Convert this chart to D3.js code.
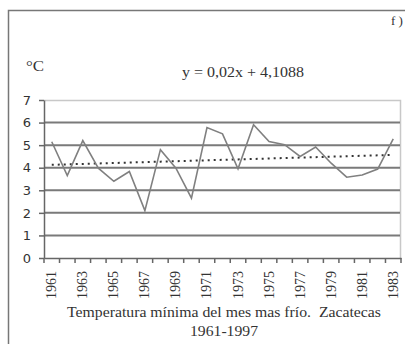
<!DOCTYPE html>
<html>
<head>
<meta charset="utf-8">
<script src="https://cdn.jsdelivr.net/npm/d3@7"></script>
<style>
  html, body { margin: 0; padding: 0; background: #fff; }
  svg { display: block; }
</style>
</head>
<body>
<svg id="chart" width="405" height="344"></svg>
<script>
// Minimum temperature of the coldest month, Zacatecas
const years = d3.range(1961, 1984).map(String);
const tmin = [5.15, 3.65, 5.2, 3.98, 3.4, 3.83, 2.1, 4.8, 3.98, 2.65,
              5.78, 5.5, 3.95, 5.9, 5.16, 5.02, 4.5, 4.92, 4.2, 3.58,
              3.68, 3.94, 5.28];
const yTicks = [0, 1, 2, 3, 4, 5, 6, 7];
const xLabels = years.filter((d, i) => i % 2 === 0);
// Linear trend as stated on the chart: y = 0,02x + 4,1088
const trendSlope = 0.02, trendIntercept = 4.1088;

const svg = d3.select("#chart");
const serif = "'Liberation Serif', 'Times New Roman', serif";
const sans = "'DejaVu Sans', Verdana, sans-serif";

// outer frame
svg.append("path")
  .attr("d", "M8.5,344 V10.5 H405")
  .attr("fill", "none").attr("stroke", "#777").attr("stroke-width", 1.5);

const plot = { left: 44, right: 401, top: 100, bottom: 258 };

const x = d3.scaleBand().domain(years).range([plot.left, plot.right]);
const y = d3.scaleLinear().domain([0, 7]).range([plot.bottom, plot.top]);

// plot-area border (light)
svg.append("path")
  .attr("d", `M${plot.left},${plot.top + 0.5} H${plot.right - 0.5} V${plot.bottom}`)
  .attr("fill", "none").attr("stroke", "#c8c8c8").attr("stroke-width", 1.5);

// gridlines
svg.append("g").selectAll("line")
  .data(yTicks.filter(d => d > 0 && d < 7))
  .join("line")
  .attr("x1", plot.left).attr("x2", plot.right - 1)
  .attr("y1", d => y(d)).attr("y2", d => y(d))
  .attr("stroke", "#7a7a7a").attr("stroke-width", 2);

// y axis
const yAxis = svg.append("g")
  .attr("transform", `translate(${plot.left},0)`)
  .call(d3.axisLeft(y).tickValues(yTicks).tickFormat(d3.format("d"))
    .tickSize(5).tickSizeOuter(0).tickPadding(8));
yAxis.select(".domain").attr("stroke", "#666").attr("stroke-width", 1.5);
yAxis.selectAll(".tick line").attr("stroke", "#666").attr("stroke-width", 1.5);
yAxis.selectAll("text")
  .attr("font-family", sans).attr("font-size", 13).attr("fill", "#333");

// x axis
const xAxis = svg.append("g")
  .attr("transform", `translate(0,${plot.bottom})`)
  .call(d3.axisBottom(x).tickValues(xLabels).tickSize(0).tickPadding(0));
xAxis.select(".domain").attr("stroke", "#666").attr("stroke-width", 1.5);
xAxis.selectAll(".tick text")
  .attr("font-family", serif).attr("font-size", 14).attr("fill", "#333")
  .attr("transform", "rotate(-90)")
  .attr("text-anchor", "end")
  .attr("dy", "0.32em").attr("x", -13).attr("y", 0);

// category boundary ticks
svg.append("g").selectAll("line")
  .data(years.concat(["end"]))
  .join("line")
  .attr("x1", (d, i) => plot.left + i * x.step())
  .attr("x2", (d, i) => plot.left + i * x.step())
  .attr("y1", plot.bottom).attr("y2", plot.bottom + 5)
  .attr("stroke", "#666").attr("stroke-width", 1.5);

// trend line (dotted)
const trend = years.map((d, i) => [d, trendSlope * (i + 1) + trendIntercept]);
svg.append("path")
  .datum(trend)
  .attr("fill", "none").attr("stroke", "#333").attr("stroke-width", 2)
  .attr("stroke-dasharray", "2,4")
  .attr("d", d3.line().x(d => x(d[0]) + x.bandwidth() / 2).y(d => y(d[1])));

// data series
svg.append("path")
  .datum(years.map((d, i) => [d, tmin[i]]))
  .attr("fill", "none").attr("stroke", "#808080").attr("stroke-width", 1.6)
  .attr("stroke-linejoin", "miter")
  .attr("d", d3.line().x(d => x(d[0]) + x.bandwidth() / 2).y(d => y(d[1])));

// texts
function label(tx, ty, str, size, width, anchor) {
  const t = svg.append("text").attr("x", tx).attr("y", ty)
    .attr("font-family", serif).attr("font-size", size).attr("fill", "#333")
    .attr("text-anchor", anchor || "start")
    .style("white-space", "pre")
    .text(str);
  if (width) t.attr("textLength", width).attr("lengthAdjust", "spacingAndGlyphs");
  return t;
}
label(26, 71, "°C", 14, 18);
label(243, 77, "y = 0,02x + 4,1088", 14, 122, "middle");
label(391, 25, "f )", 13, 0);
label(224, 317, "Temperatura mínima del mes mas frío.  Zacatecas", 14, 314, "middle");
label(224, 336, "1961-1997", 14, 68, "middle");
</script>
</body>
</html>
